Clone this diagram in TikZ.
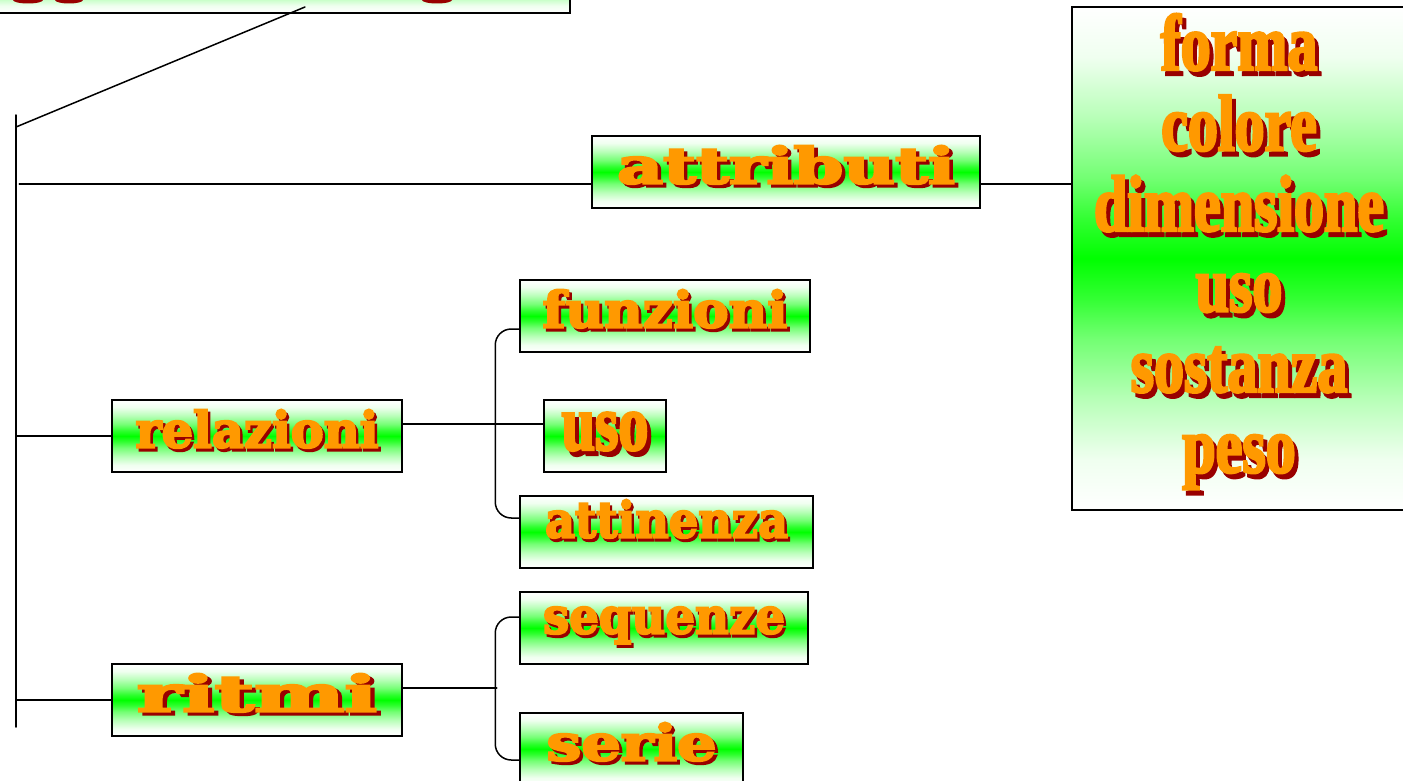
\documentclass[tikz,border=0pt]{standalone}
\usepackage{fontspec}
\usepackage{graphicx}
\newfontfamily\widefont{DejaVu Serif}[FakeBold=4]
\newfontfamily\narrowfont{Liberation Serif}[FakeStretch=0.75,FakeBold=3]
\definecolor{WordOrange}{HTML}{FF9900}
\definecolor{ShadowRed}{HTML}{990000}
\definecolor{BoxGreen}{HTML}{00FF00}
\pgfdeclareverticalshading{wordshade}{100bp}{color(0bp)=(white); color(25bp)=(white); color(30bp)=(BoxGreen!6!white); color(36bp)=(BoxGreen!28!white); color(42bp)=(BoxGreen!55!white); color(46bp)=(BoxGreen!80!white); color(50bp)=(BoxGreen); color(54bp)=(BoxGreen!80!white); color(58bp)=(BoxGreen!55!white); color(64bp)=(BoxGreen!28!white); color(70bp)=(BoxGreen!6!white); color(75bp)=(white); color(100bp)=(white)}
\newcommand{\shadowtext}[3]{\makebox[0pt][l]{\kern#1\raisebox{-#2}{\textcolor{ShadowRed}{#3}}}\textcolor{WordOrange}{#3}}
\newcommand{\wideword}[2]{\resizebox{#1}{\height}{\shadowtext{2.5pt}{3pt}{#2}}}

\begin{document}
\begin{tikzpicture}[x=1pt,y=-1pt,
  wordbox/.style={draw=black, line width=1.5pt, shade, shading=wordshade, minimum height=72pt, inner sep=0pt, text height=29pt, text depth=6pt, font=\widefont\bfseries\fontsize{50pt}{54pt}\selectfont},
  listword/.style={inner sep=0pt, font=\narrowfont\bfseries\fontsize{80pt}{80pt}\selectfont},
  wire/.style={line width=1.5pt, line cap=round}]
\useasboundingbox (0,0) rectangle (1403,781);
\fill[white] (0,0) rectangle (1403,781);
\clip (0,0) rectangle (1403,781);
\node[wordbox, minimum width=580pt, minimum height=73pt] (title) at (280,-23.5) {};
\fill[ShadowRed] (28,0) ellipse (15 and 3.5);
\fill[ShadowRed] (69,0) ellipse (14 and 3.5);
\fill[ShadowRed] (437,0) ellipse (15 and 3.5);
\node[wordbox, minimum width=388pt] (attributi) at (786,172) {\wideword{338pt}{attributi}};
\node[wordbox, minimum width=334pt, minimum height=503pt] (lista) at (1239,258.5) {};
\foreach \w [count=\i] in {forma,colore,dimensione,uso,sostanza,peso}
  \node[listword, anchor=base] (voce\i) at (1239,{70+80.5*(\i-1)}) {\shadowtext{4pt}{5pt}{\w}};
\node[wordbox, minimum width=290pt] (relazioni) at (257,436) {\wideword{243pt}{relazioni}};
\node[wordbox, minimum width=290pt] (funzioni) at (665,316) {\wideword{245pt}{funzioni}};
\node[wordbox, minimum width=122pt, text height=34pt, font=\narrowfont\bfseries\fontsize{80pt}{80pt}\selectfont] (uso) at (605,436) {\shadowtext{4pt}{5pt}{uso}};
\node[wordbox, minimum width=293pt, text depth=18pt] (attinenza) at (666.5,532) {\wideword{243pt}{attinenza}};
\node[wordbox, minimum width=290pt] (ritmi) at (257,700) {\wideword{240pt}{ritmi}};
\node[wordbox, minimum width=288pt, text depth=18pt] (sequenze) at (664,628) {\wideword{242pt}{sequenze}};
\node[wordbox, minimum width=223pt] (serie) at (631.5,749) {\wideword{170pt}{serie}};
\coordinate (top) at (16,115);
\coordinate (bottom) at (16,727);
\coordinate (tip) at (305,7);
\coordinate (knee) at (16,127);
\draw[wire] (top) -- (bottom);
\draw[wire] (tip) -- (knee);
\draw[wire] ([yshift=-12pt]attributi.west) -- ++(-572,0);
\draw[wire] ([yshift=-12pt]attributi.east) -- ([yshift=-12pt]attributi.east -| lista.west);
\draw[wire] (relazioni.west) -- (relazioni.west -| top);
\draw[wire] ([yshift=12pt]relazioni.east) -- ([yshift=12pt]uso.west);
\draw[wire, rounded corners=16pt] ([yshift=-13pt]funzioni.west) -- ++(-24,0) |- ([yshift=14pt]attinenza.west);
\draw[wire] (ritmi.west) -- (ritmi.west -| top);
\draw[wire] ([yshift=12pt]ritmi.east) -- ++(94,0);
\draw[wire, rounded corners=16pt] ([yshift=11pt]sequenze.west) -- ++(-24,0) |- ([yshift=-11pt]serie.west);
\end{tikzpicture}
\end{document}
